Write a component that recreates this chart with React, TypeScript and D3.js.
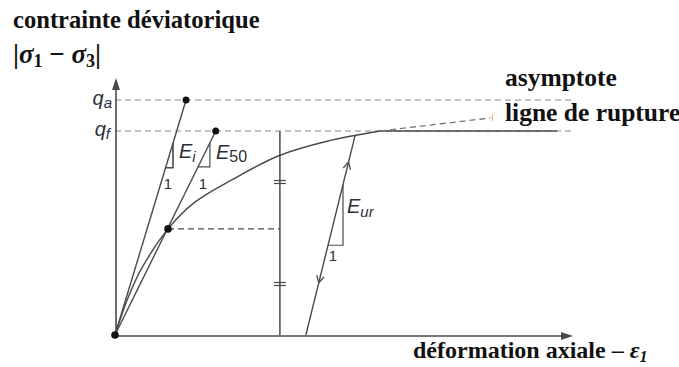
import React from 'react';
import * as d3 from 'd3';

// Diagram data (strain units: eps50 = 1 ; stress units: qf = 1)
const curveStrain = [0, 0.25, 0.5, 1, 1.5, 2.2, 3.1, 4.0, 5.0];
const curveStress = [0, 0.185, 0.325, 0.52, 0.65, 0.76, 0.88, 0.95, 1.0];
const qAsym = 1.152;
const qFail = 1.0;
const eps50 = 1.0;
const q50 = 0.52;
const epsIEnd = 1.34;
const eps50End = 1.9;
const extStrain = [5.0, 7.08];
const extStress = [1.0, 1.064];
const plateauStrain = [5.0, 8.34];
const unloadStrain = [3.6, 4.53];
const unloadStress = [0, 0.98];
const verticalStrain = 3.11;
const hashStress = [0.25, 0.75];
const arrowStress = [0.848, 0.255];
const eurTri = { eps: 4.3, q: 0.44 };
const eiTri = { eps: 1.094, q: 0.82 };
const e50Tri = { eps: 1.79, q: 0.824 };
const dashEnd = 8.65;

const W = 679, H = 367;
const x = d3.scaleLinear().domain([0, 8.6]).range([115, 571]);
const y = d3.scaleLinear().domain([0, 1]).range([335, 131]);

const LINE = '#4a4a4a';
const TXT = '#2b2f3a';

function chevron(px: number, py: number, dx: number, dy: number, len = 8, ang = 28) {
  const n = Math.hypot(dx, dy);
  const ux = -dx / n, uy = -dy / n;
  const pts = [ang, -ang].map(a => {
    const r = (a * Math.PI) / 180;
    const rx = Math.cos(r) * ux - Math.sin(r) * uy;
    const ry = Math.sin(r) * ux + Math.cos(r) * uy;
    return [px + rx * len, py + ry * len];
  });
  return `M${pts[0][0]},${pts[0][1]}L${px},${py}L${pts[1][0]},${pts[1][1]}`;
}

export default function App() {
  const curvePts: [number, number][] = curveStrain.map((e, i) => [x(e), y(curveStress[i])]);
  const curvePath = d3.line().curve(d3.curveCatmullRom.alpha(0.5))(curvePts) || '';
  const x0 = x(0), y0 = y(0);
  const ldx = x(unloadStrain[1]) - x(unloadStrain[0]);
  const ldy = y(unloadStress[1]) - y(unloadStress[0]);
  const onUnload = (q: number) => {
    const t = (q - unloadStress[0]) / (unloadStress[1] - unloadStress[0]);
    return [x(unloadStrain[0] + t * (unloadStrain[1] - unloadStrain[0])), y(q)];
  };
  const onLine = (epsEnd: number, qEnd: number, q: number) => x((q / qEnd) * epsEnd);
  const [ua, ub] = onUnload(arrowStress[0]);
  const [da, db] = onUnload(arrowStress[1]);
  const eurTop = (() => {
    const t = (x(eurTri.eps) - x(unloadStrain[0])) / ldx;
    return y(unloadStress[0]) + t * ldy;
  })();
  const eurLeft = onUnload(eurTri.q)[0];
  const eiTop = y((eiTri.eps / epsIEnd) * qAsym);
  const eiLeft = onLine(epsIEnd, qAsym, eiTri.q);
  const e50Top = y((e50Tri.eps / eps50End) * qFail);
  const e50Left = onLine(eps50End, qFail, e50Tri.q);

  const serif = '"Liberation Serif", "Times New Roman", serif';
  const sans = '"Liberation Sans", Arial, sans-serif';

  return (
    <svg width={W} height={H} style={{ position: 'absolute', left: 0, top: 0, background: '#fff' }}>
      {/* titles */}
      <text x={13} y={28} fontFamily={serif} fontWeight="bold" fontSize={24.6} fill="#111">contrainte déviatorique</text>
      <text x={13} y={63} fontFamily={serif} fontWeight="bold" fontSize={27} fill="#111">
        |<tspan fontStyle="italic">σ</tspan><tspan fontSize={18} dy={4}>1</tspan><tspan dy={-4}> − </tspan><tspan fontStyle="italic">σ</tspan><tspan fontSize={18} dy={4}>3</tspan><tspan dy={-4}>|</tspan>
      </text>
      <text x={505} y={86} fontFamily={serif} fontWeight="bold" fontSize={25.5} fill="#111">asymptote</text>
      <text x={505} y={121} fontFamily={serif} fontWeight="bold" fontSize={25.5} fill="#111">ligne de rupture</text>
      <text x={413} y={358} fontFamily={serif} fontWeight="bold" fontSize={24} fill="#111">
        déformation axiale – <tspan fontStyle="italic">ε</tspan><tspan fontStyle="italic" fontSize={16} dy={4}>1</tspan>
      </text>

      {/* dashed reference lines */}
      <line x1={x0} x2={x(dashEnd)} y1={y(qAsym)} y2={y(qAsym)} stroke="#8a8a8a" strokeWidth={1.2} strokeDasharray="6,4" />
      <line x1={x0} x2={x(dashEnd)} y1={y(qFail)} y2={y(qFail)} stroke="#8a8a8a" strokeWidth={1.2} strokeDasharray="6,4" />

      {/* axes */}
      <line x1={x0 + 1} x2={x0 + 1} y1={y0} y2={88} stroke={LINE} strokeWidth={1.6} />
      <path d={`M${x0 + 1},78L${x0 - 3},90L${x0 + 5},90Z`} fill={LINE} />
      <line x1={x0} x2={562} y1={y0 + 1} y2={y0 + 1} stroke={LINE} strokeWidth={1.6} />
      <path d={`M573,${y0 + 1}L561,${y0 - 3}L561,${y0 + 5}Z`} fill={LINE} />

      {/* curve */}
      <path d={curvePath} fill="none" stroke={LINE} strokeWidth={1.4} />
      <line x1={x(plateauStrain[0])} x2={x(plateauStrain[1])} y1={y(qFail)} y2={y(qFail)} stroke={LINE} strokeWidth={1.4} />
      <line x1={x(extStrain[0])} x2={x(extStrain[1])} y1={y(extStress[0])} y2={y(extStress[1])} stroke="#777" strokeWidth={1.3} strokeDasharray="6,4" />
      <line x1={x(extStrain[1]) + 2} x2={x(extStrain[1]) + 2} y1={y(extStress[1]) - 4} y2={y(extStress[1]) + 3} stroke="#e0b060" strokeWidth={1} />

      {/* Ei and E50 lines */}
      <line x1={x0} y1={y0} x2={x(epsIEnd)} y2={y(qAsym)} stroke={LINE} strokeWidth={1.4} />
      <line x1={x0} y1={y0} x2={x(eps50End)} y2={y(qFail)} stroke={LINE} strokeWidth={1.4} />
      <path d={`M${eiLeft},${y(eiTri.q)}L${x(eiTri.eps)},${y(eiTri.q)}L${x(eiTri.eps)},${eiTop}`} fill="none" stroke={LINE} strokeWidth={1.6} />
      <path d={`M${e50Left},${y(e50Tri.q)}L${x(e50Tri.eps)},${y(e50Tri.q)}L${x(e50Tri.eps)},${e50Top}`} fill="none" stroke={LINE} strokeWidth={1.2} />

      {/* mid-level dashed line */}
      <line x1={x(eps50)} x2={x(verticalStrain)} y1={y(q50)} y2={y(q50)} stroke={LINE} strokeWidth={1.3} strokeDasharray="6,4" />

      {/* vertical line with hash marks */}
      <line x1={x(verticalStrain)} x2={x(verticalStrain)} y1={y0} y2={y(qFail)} stroke={LINE} strokeWidth={1.5} />
      {hashStress.map((q, i) => (
        <g key={i}>
          <line x1={x(verticalStrain) - 6} x2={x(verticalStrain) + 6} y1={y(q) - 1.5} y2={y(q) - 1.5} stroke={LINE} strokeWidth={1.2} />
          <line x1={x(verticalStrain) - 6} x2={x(verticalStrain) + 6} y1={y(q) + 1.5} y2={y(q) + 1.5} stroke={LINE} strokeWidth={1.2} />
        </g>
      ))}

      {/* unload-reload line */}
      <line x1={x(unloadStrain[0])} y1={y(unloadStress[0])} x2={x(unloadStrain[1])} y2={y(unloadStress[1])} stroke={LINE} strokeWidth={1.4} />
      <path d={chevron(ua, ub, ldx, ldy)} fill="none" stroke={LINE} strokeWidth={1.3} />
      <path d={chevron(da, db, -ldx, -ldy)} fill="none" stroke={LINE} strokeWidth={1.3} />
      <path d={`M${eurLeft},${y(eurTri.q)}L${x(eurTri.eps)},${y(eurTri.q)}L${x(eurTri.eps)},${eurTop}`} fill="none" stroke={LINE} strokeWidth={1.2} />

      {/* dots */}
      <circle cx={x0} cy={y0} r={3.8} fill="#111" />
      <circle cx={x(eps50)} cy={y(q50)} r={3.8} fill="#111" />
      <circle cx={x(epsIEnd)} cy={y(qAsym)} r={3.5} fill="#111" />
      <circle cx={x(eps50End)} cy={y(qFail)} r={3.5} fill="#111" />

      {/* labels */}
      <text x={112} y={y(qAsym) + 5} textAnchor="end" fontFamily={sans} fontStyle="italic" fontSize={20} fill={TXT}>q<tspan fontSize={15} dy={3}>a</tspan></text>
      <text x={110} y={y(qFail) + 5} textAnchor="end" fontFamily={sans} fontStyle="italic" fontSize={20} fill={TXT}>q<tspan fontSize={15} dy={3}>f</tspan></text>
      <text x={179} y={158} fontFamily={sans} fontStyle="italic" fontSize={20} fill={TXT}>E<tspan fontSize={15} dy={4}>i</tspan></text>
      <text x={216} y={159} fontFamily={sans} fontSize={20} fill={TXT}><tspan fontStyle="italic">E</tspan><tspan fontSize={16} dy={3}>50</tspan></text>
      <text x={347} y={213} fontFamily={sans} fontStyle="italic" fontSize={20} fill={TXT}>E<tspan fontSize={15} dy={4}>ur</tspan></text>
      <text x={168} y={189} textAnchor="middle" fontFamily={sans} fontSize={15} fill={TXT}>1</text>
      <text x={203} y={189} textAnchor="middle" fontFamily={sans} fontSize={15} fill={TXT}>1</text>
      <text x={333} y={261} textAnchor="middle" fontFamily={sans} fontSize={15} fill={TXT}>1</text>
    </svg>
  );
}
